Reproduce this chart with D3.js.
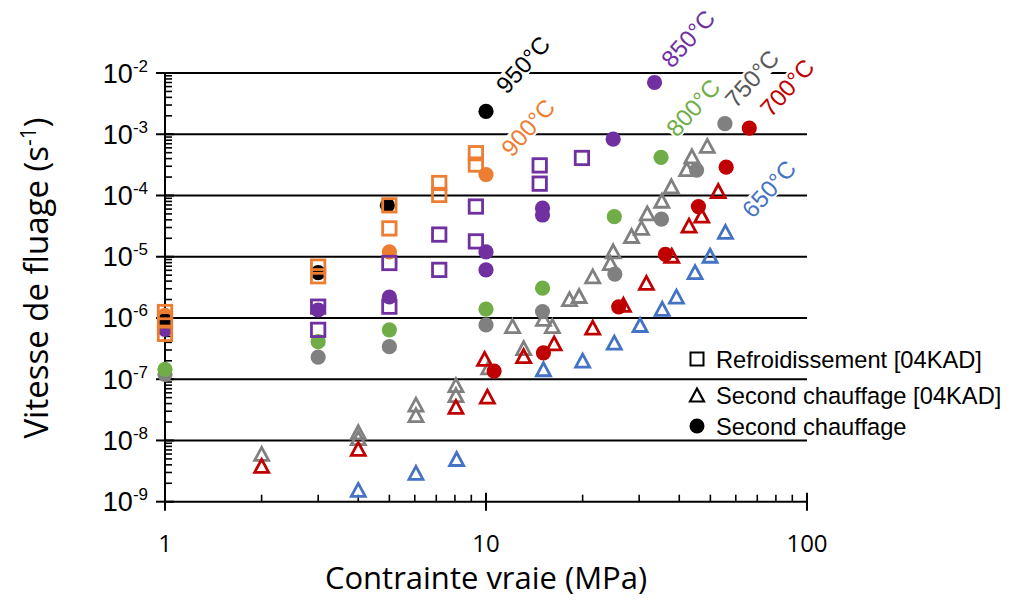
<!DOCTYPE html>
<html><head><meta charset="utf-8">
<script src="https://cdn.jsdelivr.net/npm/d3@7"></script>
<style>body{margin:0;background:#fff}</style>
</head><body>
<svg id="c" width="1012" height="605"></svg>
<script>
// ---------- data ----------
const xTickValues = [1, 10, 100];
const xTickLabels = ["1", "10", "100"];
const yTickValues = [1e-9, 1e-8, 1e-7, 1e-6, 1e-5, 1e-4, 1e-3, 1e-2];
const yTickExponents = ["-9", "-8", "-7", "-6", "-5", "-4", "-3", "-2"];

// Refroidissement [04KAD] (open squares)
const sq900 = [[1,1.25e-6],[1,9.5e-7],[1,5.5e-7],[3,6.9e-6],[3,4.8e-6],[5,6.9e-5],[5,2.9e-5],[7.15,1.6e-4],[7.15,1.02e-4],[9.3,4.9e-4],[9.3,3.2e-4]];
const sq850 = [[3,1.53e-6],[3,6.4e-7],[5,7.9e-6],[5,1.53e-6],[7.15,2.3e-5],[7.15,6.1e-6],[9.3,6.6e-5],[9.3,1.78e-5],[14.7,3.1e-4],[14.7,1.56e-4],[19.9,4.1e-4]];

// Second chauffage [04KAD] (open triangles)
const tri750 = [[2,5.8e-9],[4,1.31e-8],[4,1.05e-8],[6.05,3.7e-8],[6.05,2.5e-8],[8.06,7.7e-8],[8.06,5.3e-8],[10.2,1.5e-7],[12.1,7.1e-7],[13.1,3.1e-7],[15.1,9.3e-7],[16.1,7.1e-7],[18.2,1.95e-6],[19.5,2.2e-6],[21.5,4.6e-6],[24.4,7.6e-6],[24.9,1.18e-5],[28.4,2.1e-5],[30.5,2.85e-5],[31.8,4.9e-5],[35.3,7.9e-5],[37.8,1.36e-4],[42.2,2.6e-4],[43.8,4.2e-4],[48.9,6.2e-4]];
const tri700 = [[2,3.7e-9],[4,7.0e-9],[8.06,3.4e-8],[9.9,2.07e-7],[10.1,5.0e-8],[13.1,2.3e-7],[16.3,3.7e-7],[21.5,6.7e-7],[26.8,1.58e-6],[31.6,3.6e-6],[37.9,1.0e-5],[42.9,3.1e-5],[47,4.5e-5],[52.9,1.14e-4]];
const tri650 = [[4,1.5e-9],[6.05,2.84e-9],[8.1,4.8e-9],[15.1,1.4e-7],[20.0,1.94e-7],[25.1,3.8e-7],[30.2,7.4e-7],[35.4,1.36e-6],[39.2,2.15e-6],[44.8,5.4e-6],[49.9,1.0e-5],[55.7,2.45e-5]];

// Second chauffage (filled circles)
const c750 = [[1,1.2e-7],[3,2.3e-7],[5,3.4e-7],[10,7.7e-7],[15,1.27e-6],[25.2,5.2e-6],[35.2,4.1e-5],[45.3,2.6e-4],[55.5,1.49e-3]];
const c700 = [[10.6,1.36e-7],[15.1,2.7e-7],[25.9,1.52e-6],[36.2,1.09e-5],[45.9,6.6e-5],[56,2.9e-4],[66.1,1.26e-3]];
const c800 = [[1,1.45e-7],[3,4.1e-7],[5,6.4e-7],[10,1.39e-6],[15,3.07e-6],[25.1,4.5e-5],[35.1,4.2e-4]];
const c900 = [[1,1.1e-6],[5,1.2e-5],[10,2.2e-4]];
const c850 = [[1,6.5e-7],[3,1.35e-6],[5,2.2e-6],[10,1.2e-5],[10,6.1e-6],[15,6.2e-5],[15,4.8e-5],[24.9,8.3e-4],[33.5,7.0e-3]];
const c950 = [[1,9e-7],[3,5.5e-6],[4.93,6.9e-5],[10,2.36e-3]];

// temperature annotations (anchor in data units)
const tempLabels = ["950°C","900°C","850°C","800°C","750°C","700°C","650°C"];
const tempAnchorX = [13.04, 13.52, 42.6, 44.2, 67.4, 86.7, 76.1];
const tempAnchorY = [1.37e-2, 1.28e-3, 3.63e-2, 2.71e-3, 8.07e-3, 5.75e-3, 1.28e-4];

const legendLabels = ["Refroidissement [04KAD]", "Second chauffage [04KAD]", "Second chauffage"];

// ---------- styles ----------
const C = {orange:"#ED7D31", purple:"#7030A0", green:"#70AD47", grey:"#808080", red:"#C00000", blue:"#4472C4", black:"#000000"};
const tempColors = [C.black, C.orange, C.purple, C.green, "#595959", C.red, C.blue];

const svg = d3.select("#c");
const x = d3.scaleLog().domain([1, 100]).range([165, 807]);
const y = d3.scaleLog().domain([1e-9, 1e-2]).range([501.7, 73]);
const X0 = x.range()[0], X1 = x.range()[1], Y0 = y.range()[0], Y1 = y.range()[1];

// gridlines
svg.append("g").selectAll("line").data(yTickValues.slice(1)).join("line")
  .attr("x1", X0).attr("x2", X1).attr("y1", d => y(d)).attr("y2", d => y(d))
  .attr("stroke", "#000").attr("stroke-width", 2);

// minor ticks
const xMinor = [];
for (let dec = 1; dec < 100; dec *= 10) for (let k = 2; k <= 9; k++) xMinor.push(dec * k);
const yMinor = [];
for (let e = -9; e < -2; e++) for (let k = 2; k <= 9; k++) yMinor.push(k * Math.pow(10, e));

svg.append("g").selectAll("line").data(xMinor).join("line")
  .attr("x1", d => x(d)).attr("x2", d => x(d)).attr("y1", Y0).attr("y2", Y0 - 7)
  .attr("stroke", "#000").attr("stroke-width", 1.6);
svg.append("g").selectAll("line").data(yMinor).join("line")
  .attr("x1", X0).attr("x2", X0 + 7).attr("y1", d => y(d)).attr("y2", d => y(d))
  .attr("stroke", "#000").attr("stroke-width", 1.6);

// major ticks
svg.append("g").selectAll("line").data(xTickValues).join("line")
  .attr("x1", d => x(d)).attr("x2", d => x(d)).attr("y1", Y0 - 9).attr("y2", Y0 + 9)
  .attr("stroke", "#000").attr("stroke-width", 2);
svg.append("g").selectAll("line").data(yTickValues).join("line")
  .attr("x1", X0 - 9).attr("x2", X0 + 9).attr("y1", d => y(d)).attr("y2", d => y(d))
  .attr("stroke", "#000").attr("stroke-width", 2);

// axis lines
svg.append("line").attr("x1", X0).attr("x2", X1).attr("y1", Y0).attr("y2", Y0).attr("stroke", "#000").attr("stroke-width", 2);
svg.append("line").attr("x1", X0).attr("x2", X0).attr("y1", Y0).attr("y2", Y1).attr("stroke", "#000").attr("stroke-width", 2);

// tick labels
svg.append("g").selectAll("text").data(xTickValues).join("text")
  .attr("x", d => x(d)).attr("y", 552).attr("text-anchor", "middle")
  .attr("font-family", "'Open Sans', sans-serif").attr("font-size", 24).attr("fill", "#000")
  .text((d, i) => xTickLabels[i]);

const yl = svg.append("g").selectAll("text").data(yTickValues).join("text")
  .attr("x", 148).attr("y", d => y(d) + 9.5).attr("text-anchor", "end")
  .attr("font-family", "Arial, 'Liberation Sans', sans-serif").attr("font-size", 27).attr("fill", "#000");
yl.append("tspan").text("10");
yl.append("tspan").attr("dy", -11).attr("font-size", 17).text((d, i) => yTickExponents[i]);

// axis titles
svg.append("text").attr("x", 486).attr("y", 589).attr("text-anchor", "middle")
  .attr("font-family", "'Open Sans', sans-serif").attr("font-size", 31).attr("fill", "#000")
  .text("Contrainte vraie (MPa)");
const yt = svg.append("text").attr("transform", "translate(48,278) rotate(-90)").attr("text-anchor", "middle")
  .attr("font-family", "'Open Sans', sans-serif").attr("font-size", 33).attr("fill", "#000");
yt.append("tspan").text("Vitesse de fluage (s");
yt.append("tspan").attr("dy", -12).attr("font-size", 21).text("-1");
yt.append("tspan").attr("dy", 12).text(")");

// markers
const triPath = "M0,-7.5L7,5.5L-7,5.5Z";
function triangles(data, color) {
  svg.append("g").selectAll("path").data(data).join("path")
    .attr("d", triPath).attr("transform", d => `translate(${x(d[0])},${y(d[1])})`)
    .attr("fill", "none").attr("stroke", color).attr("stroke-width", 2.8);
}
function circles(data, color) {
  svg.append("g").selectAll("circle").data(data).join("circle")
    .attr("cx", d => x(d[0])).attr("cy", d => y(d[1])).attr("r", 7.6).attr("fill", color);
}
function squares(data, color) {
  svg.append("g").selectAll("rect").data(data).join("rect")
    .attr("x", d => x(d[0]) - 6.7).attr("y", d => y(d[1]) - 6.7).attr("width", 13.4).attr("height", 13.4)
    .attr("fill", "none").attr("stroke", color).attr("stroke-width", 2.8);
}
triangles(tri750, C.grey);
triangles(tri700, C.red);
triangles(tri650, C.blue);
circles(c750, C.grey);
circles(c700, C.red);
circles(c800, C.green);
circles(c900, C.orange);
circles(c850, C.purple);
circles(c950, C.black);
squares(sq850, C.purple);
squares(sq900, C.orange);

// temperature labels with white box
tempLabels.forEach((t, i) => {
  const g = svg.append("g").attr("transform", `translate(${x(tempAnchorX[i])},${y(tempAnchorY[i])}) rotate(-48)`);
  const txt = g.append("text").attr("text-anchor", "middle").attr("dy", "0.35em")
    .attr("font-family", "Arial, 'Liberation Sans', sans-serif").attr("font-size", 24)
    .attr("fill", tempColors[i]).text(t);
  const bb = txt.node().getBBox();
  g.insert("rect", "text").attr("x", bb.x - 1).attr("y", bb.y + 3).attr("width", bb.width + 2).attr("height", bb.height - 6).attr("fill", "#fff");
});

// legend
const legY = [359, 395, 426];
const lg = svg.append("g");
lg.append("rect").attr("x", 697 - 6.5).attr("y", legY[0] - 6.5).attr("width", 13).attr("height", 13).attr("fill", "none").attr("stroke", "#000").attr("stroke-width", 2);
lg.append("path").attr("d", triPath).attr("transform", `translate(697,${legY[1] + 1})`).attr("fill", "none").attr("stroke", "#000").attr("stroke-width", 2.2);
lg.append("circle").attr("cx", 697).attr("cy", legY[2]).attr("r", 7.5).attr("fill", "#000");
lg.selectAll("text").data(legendLabels).join("text")
  .attr("x", 716).attr("y", (d, i) => legY[i]).attr("dy", "0.36em")
  .attr("font-family", "Arial, 'Liberation Sans', sans-serif").attr("font-size", 23.7).attr("fill", "#000")
  .text(d => d);
</script>
</body></html>
